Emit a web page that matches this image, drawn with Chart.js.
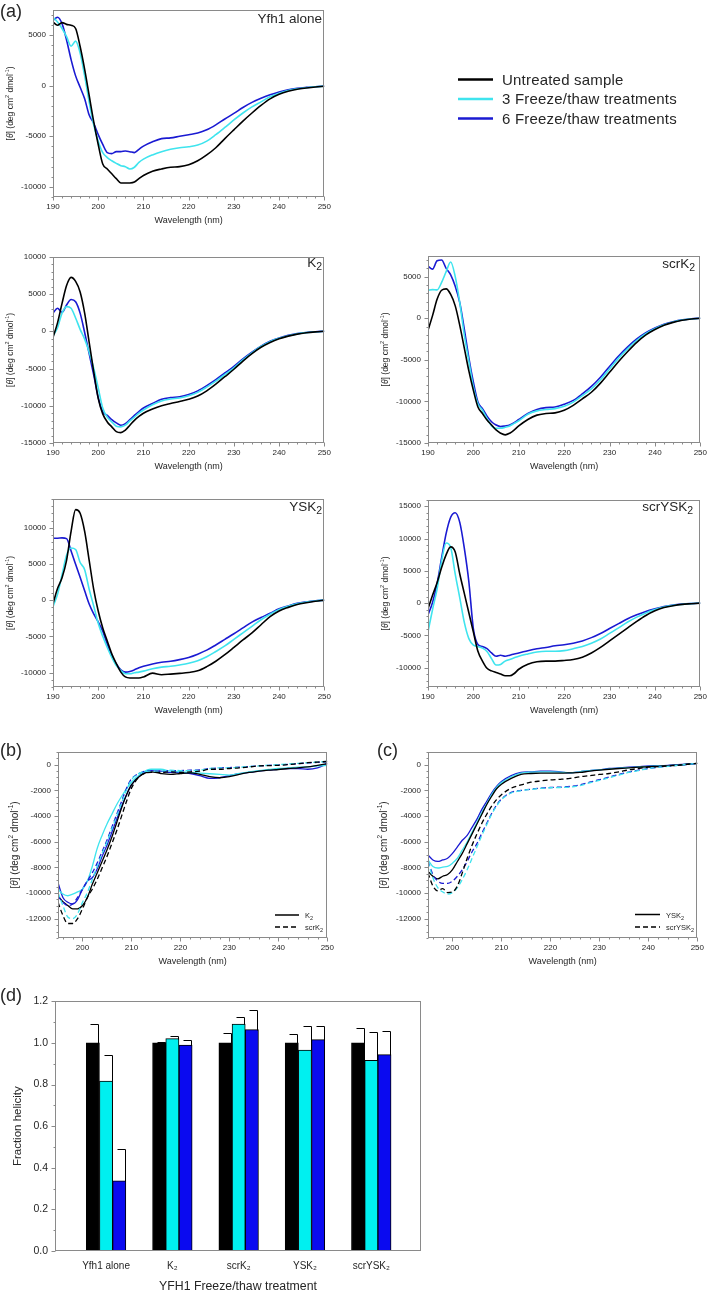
<!DOCTYPE html>
<html><head><meta charset="utf-8">
<script src="https://cdn.jsdelivr.net/npm/chart.js@4.4.1/dist/chart.umd.min.js"></script>
<style>
html,body{margin:0;padding:0;background:#fff;}
body{width:709px;height:1293px;position:relative;overflow:hidden;}
#wrap canvas{position:absolute;}
#overlay{position:absolute;left:0;top:0;}
</style></head><body>
<div id="wrap"></div>
<svg id="overlay" width="709" height="1293" font-family="Liberation Sans, Arial, sans-serif" fill="#262626">
  <text x="0" y="17" font-size="18">(a)</text>
  <text x="0" y="756" font-size="18">(b)</text>
  <text x="377" y="756" font-size="18">(c)</text>
  <text x="0" y="1001" font-size="18">(d)</text>
  <text x="322" y="23" font-size="13.5" text-anchor="end">Yfh1 alone</text>
  <text x="322" y="267" font-size="13.5" text-anchor="end">K<tspan font-size="10.5" dy="3">2</tspan></text>
  <text x="695" y="268" font-size="13.5" text-anchor="end">scrK<tspan font-size="10.5" dy="3">2</tspan></text>
  <text x="322" y="511" font-size="13.5" text-anchor="end">YSK<tspan font-size="10.5" dy="3">2</tspan></text>
  <text x="693" y="511" font-size="13.5" text-anchor="end">scrYSK<tspan font-size="10.5" dy="3">2</tspan></text>
  <line x1="458" y1="79.5" x2="493" y2="79.5" stroke="#000" stroke-width="2.5"/>
  <line x1="458" y1="99" x2="493" y2="99" stroke="#3fe4ee" stroke-width="2.5"/>
  <line x1="458" y1="118.5" x2="493" y2="118.5" stroke="#1a1ad2" stroke-width="2.5"/>
  <g font-size="15" letter-spacing="0.2">
    <text x="502" y="84.5">Untreated sample</text>
    <text x="502" y="104">3 Freeze/thaw treatments</text>
    <text x="502" y="123.5">6 Freeze/thaw treatments</text>
  </g>
  <line x1="275" y1="915" x2="299" y2="915" stroke="#000" stroke-width="1.5"/>
  <line x1="275" y1="927" x2="299" y2="927" stroke="#000" stroke-width="1.5" stroke-dasharray="5,3"/>
  <text x="305" y="918" font-size="7.5">K<tspan font-size="5.5" dy="2">2</tspan></text>
  <text x="305" y="930" font-size="7.5">scrK<tspan font-size="5.5" dy="2">2</tspan></text>
  <line x1="635" y1="914.5" x2="660" y2="914.5" stroke="#000" stroke-width="1.5"/>
  <line x1="635" y1="927" x2="660" y2="927" stroke="#000" stroke-width="1.5" stroke-dasharray="5,3"/>
  <text x="666" y="917.5" font-size="7.5">YSK<tspan font-size="5.5" dy="2">2</tspan></text>
  <text x="666" y="930" font-size="7.5">scrYSK<tspan font-size="5.5" dy="2">2</tspan></text>
</svg>
<script>
// ---------------- DATA ----------------
const WL_A = [190,191,192,193,194,195,196,197,198,199,200,201,202,203,204,205,206,207,208,209,210,212,214,216,218,220,222,224,226,228,230,232,234,236,238,240,242,244,246,248,250];

const YFH1_UNTREATED = [6290,5970,6230,6060,5970,5650,3870,1610,-970,-3550,-5810,-7740,-8230,-8710,-9190,-9610,-9620,-9610,-9520,-9190,-8870,-8450,-8230,-8060,-8000,-7810,-7420,-6840,-6130,-5230,-4360,-3500,-2700,-1950,-1300,-850,-550,-350,-230,-130,-60];
const YFH1_FT3 = [6770,6290,5650,4840,3900,4400,3230,970,-1610,-3870,-5480,-6610,-7100,-7420,-7680,-7900,-8000,-8230,-8060,-7580,-7260,-6840,-6520,-6290,-6130,-6030,-5870,-5480,-4840,-4130,-3390,-2700,-2100,-1600,-1100,-750,-480,-300,-200,-110,-50];
const YFH1_FT6 = [6450,6770,6130,4520,2580,970,-160,-1290,-2900,-3710,-4840,-5810,-6610,-6710,-6520,-6520,-6450,-6520,-6610,-6290,-5970,-5550,-5230,-5160,-5000,-4840,-4680,-4360,-3870,-3290,-2740,-2150,-1650,-1250,-900,-620,-400,-260,-170,-100,-40];

const K2_UNTREATED = [-830,1130,3750,6150,7240,6710,5280,2440,-1480,-5410,-9000,-11090,-12170,-12830,-13480,-13610,-13260,-12610,-11960,-11440,-11000,-10440,-10000,-9700,-9430,-9130,-8700,-8000,-7100,-6100,-5100,-4000,-3000,-2150,-1500,-1000,-650,-380,-200,-80,0];
const K2_FT3 = [-610,480,2440,3310,3100,1790,260,-1050,-2790,-4970,-7600,-10300,-11520,-12170,-12740,-12830,-12610,-12040,-11520,-11000,-10570,-9870,-9350,-9100,-8950,-8650,-8200,-7500,-6700,-5800,-4900,-3850,-2900,-2050,-1400,-950,-600,-350,-180,-70,0];
const K2_FT6 = [2440,3100,2530,3530,4270,3970,2440,-170,-3010,-5840,-8890,-10800,-11300,-11870,-12300,-12610,-12390,-11870,-11300,-10780,-10300,-9700,-9130,-8900,-8800,-8500,-8000,-7300,-6500,-5600,-4700,-3700,-2800,-2000,-1350,-900,-550,-320,-160,-60,0];

const SCRK2_UNTREATED = [-1450,310,2270,3360,3520,2850,1480,-860,-3590,-6330,-8670,-10670,-11450,-12240,-12830,-13430,-13820,-14020,-13820,-13430,-12950,-12170,-11650,-11460,-11380,-11060,-10470,-9700,-8900,-7800,-6500,-5200,-4000,-2900,-2000,-1350,-850,-500,-250,-100,0];
const SCRK2_FT3 = [3360,3440,3400,4300,5600,6760,5000,1870,-2030,-5160,-8280,-10280,-11060,-12050,-12950,-13230,-13230,-13110,-12950,-12640,-12330,-11540,-11140,-10980,-10870,-10590,-10080,-9300,-8500,-7400,-6100,-4800,-3650,-2650,-1850,-1250,-780,-450,-220,-90,0];
const SCRK2_FT6 = [6250,5900,6900,7000,5980,5200,3830,1870,-1300,-4770,-7700,-10080,-10870,-11770,-12440,-12830,-13030,-12950,-12830,-12560,-12170,-11460,-10980,-10750,-10670,-10350,-9880,-9100,-8200,-7100,-5800,-4550,-3450,-2500,-1750,-1180,-730,-420,-200,-80,0];

const YSK2_UNTREATED = [-500,1600,3100,5500,9500,12500,12000,9500,5500,1500,-1500,-3850,-5650,-7420,-8770,-9940,-10610,-10750,-10750,-10750,-10610,-10090,-10300,-10220,-10120,-10000,-9770,-9190,-8440,-7540,-6530,-5500,-4530,-3400,-2280,-1500,-1000,-600,-350,-150,0];
const YSK2_FT3 = [-900,800,3500,6200,7200,7000,5200,4200,1500,-800,-3200,-5000,-6550,-7910,-9040,-9720,-10170,-10170,-10030,-9940,-9810,-9490,-9260,-9130,-8950,-8720,-8360,-7820,-7100,-6330,-5420,-4520,-3620,-2710,-1950,-1300,-850,-500,-280,-120,0];
const YSK2_FT6 = [8560,8560,8600,8500,6800,4950,3150,1300,-540,-1900,-3000,-4300,-6100,-7680,-8810,-9630,-9940,-9850,-9630,-9350,-9130,-8810,-8580,-8450,-8220,-7910,-7460,-6910,-6190,-5420,-4650,-3840,-3030,-2400,-1810,-1200,-800,-450,-250,-100,0];

const SCRYSK2_UNTREATED = [-850,1200,3150,5500,7500,8700,7900,4500,1500,-1500,-4500,-7470,-8990,-10100,-10500,-10760,-11000,-11260,-11260,-10910,-10250,-9490,-9090,-8990,-8990,-8890,-8740,-8380,-7730,-6870,-5860,-4850,-3840,-2830,-1920,-1200,-700,-400,-200,-100,0];
const SCRYSK2_FT3 = [-4440,-1000,2150,6500,9300,8600,4500,800,-3000,-5500,-6500,-6720,-6970,-7500,-8600,-9600,-9500,-8990,-8740,-8480,-8230,-7880,-7580,-7470,-7470,-7370,-7070,-6720,-6210,-5560,-4700,-3840,-2930,-2170,-1520,-1000,-600,-350,-200,-80,0];
const SCRYSK2_FT6 = [-1850,100,3000,7000,10800,13300,14000,12500,8500,3300,-4000,-6400,-6720,-7070,-7730,-8230,-8080,-8230,-8080,-7880,-7730,-7370,-7070,-6870,-6620,-6460,-6210,-5860,-5350,-4700,-3940,-3180,-2420,-1820,-1300,-900,-550,-300,-150,-60,0];

const WL_B = [195,196,197,198,199,200,201,202,203,204,205,206,207,208,209,210,212,214,216,218,220,222,224,226,228,230,232,234,236,238,240,242,244,246,248,250];

const B_K2_UNTREATED = [-10210,-10670,-10970,-11230,-11230,-10970,-10340,-9320,-8430,-7540,-6650,-5640,-4500,-3350,-2340,-1580,-810,-560,-690,-760,-690,-640,-760,-940,-1020,-940,-760,-610,-510,-430,-380,-300,-250,-180,-50,80];
const B_K2_FT3 = [-9700,-10080,-10210,-10080,-9910,-9700,-9070,-7930,-6530,-5510,-4620,-3860,-3100,-2460,-1880,-1370,-690,-360,-360,-510,-560,-610,-660,-710,-760,-810,-690,-560,-460,-380,-300,-250,-200,-180,-100,-50];
const B_K2_FT6 = [-9200,-10340,-10720,-10850,-10520,-9700,-9070,-8810,-8130,-7160,-6270,-5260,-4240,-3230,-2340,-1580,-760,-460,-510,-610,-610,-690,-860,-1070,-1020,-860,-710,-610,-510,-430,-360,-300,-300,-360,-250,80];
const B_SCRK2_UNTREATED = [-10720,-11740,-12370,-12370,-11990,-11230,-10340,-9700,-8940,-8050,-7160,-6150,-5130,-3990,-2850,-1830,-810,-610,-610,-560,-610,-560,-510,-360,-360,-300,-250,-180,-100,-80,-50,0,80,150,200,250];
const B_SCRK2_FT3 = [-9960,-10970,-11860,-11990,-11610,-10720,-9960,-8940,-7930,-6910,-6020,-5000,-3990,-2970,-1960,-1190,-610,-510,-510,-430,-460,-460,-430,-300,-250,-250,-200,-150,-100,-50,0,50,100,150,200,250];
const B_SCRK2_FT6 = [-10210,-10720,-10970,-10850,-10340,-9700,-9070,-8430,-7670,-6780,-5890,-4880,-3860,-2850,-1830,-1120,-610,-460,-510,-460,-460,-430,-410,-300,-250,-230,-200,-150,-100,-50,-30,30,80,130,180,200];

const C_YSK2_UNTREATED = [-8310,-8690,-8890,-8690,-8560,-8180,-7540,-6910,-6150,-5390,-4620,-3860,-3100,-2460,-1880,-1520,-1070,-760,-690,-660,-660,-660,-640,-610,-510,-430,-360,-300,-250,-200,-150,-130,-80,-30,30,100];
const C_YSK2_FT3 = [-7420,-7930,-8050,-7980,-7930,-7670,-7290,-6660,-6020,-5260,-4500,-3730,-3050,-2340,-1780,-1400,-940,-660,-580,-560,-560,-580,-640,-560,-460,-410,-330,-280,-230,-180,-130,-100,-80,-30,30,100];
const C_YSK2_FT6 = [-7040,-7420,-7540,-7420,-7290,-6910,-6400,-5890,-5510,-4880,-4240,-3480,-2850,-2210,-1700,-1320,-860,-610,-560,-510,-510,-560,-640,-560,-460,-410,-300,-250,-200,-150,-100,-80,-50,0,30,100];
const C_SCRYSK2_UNTREATED = [-8430,-9450,-9830,-9650,-9960,-9910,-9450,-8430,-7290,-6270,-5390,-4570,-3860,-3230,-2720,-2340,-1830,-1580,-1370,-1270,-1190,-1140,-1070,-940,-860,-760,-690,-560,-410,-300,-200,-150,-100,-50,30,100];
const C_SCRYSK2_FT3 = [-7540,-8810,-9580,-9910,-10080,-9960,-9580,-8940,-8180,-7290,-6400,-5510,-4670,-3860,-3230,-2720,-2210,-2030,-1930,-1850,-1800,-1780,-1750,-1630,-1420,-1220,-1020,-810,-610,-460,-300,-200,-130,-50,30,100];
const C_SCRYSK2_FT6 = [-7540,-8560,-9070,-9250,-9250,-9070,-8690,-8180,-7540,-6780,-6150,-5330,-4570,-3810,-3150,-2670,-2160,-2010,-1910,-1830,-1780,-1750,-1700,-1580,-1370,-1170,-970,-760,-580,-430,-300,-200,-130,-50,30,100];

const BAR_CATEGORIES = ['Yfh1 alone', 'K\u2082', 'scrK\u2082', 'YSK\u2082', 'scrYSK\u2082'];
const BAR_UNTREATED = [1.0, 1.0, 1.0, 1.0, 1.0];
const BAR_FT3 = [0.817, 1.021, 1.090, 0.965, 0.916];
const BAR_FT6 = [0.337, 0.990, 1.064, 1.016, 0.944];
const ERR_UNTREATED = [0.090, 0.003, 0.046, 0.041, 0.071];
const ERR_FT3 = [0.126, 0.014, 0.035, 0.114, 0.135];
const ERR_FT6 = [0.154, 0.022, 0.094, 0.063, 0.112];

// ---------------- STYLE ----------------
const FONT = '"Liberation Sans", Arial, Helvetica, sans-serif';
const TXT = '#262626';
const FRAME = '#8a8a8a';
const C_BLACK = '#000000', C_CYAN = '#3fe4ee', C_BLUE = '#1a1ad2';

function pts(xs, ys) { return xs.map((x, i) => ({x: x, y: ys[i]})); }
function tickList(min, max, step) {
  const out = [];
  for (let n = Math.ceil(min / step - 1e-9); n * step <= max + 1e-9; n++) out.push({ value: +(n * step).toFixed(6) });
  return out;
}

const THETA = [{t:'['},{t:'\u03b8',it:true},{t:'] (deg cm'},{t:'2',sup:true},{t:' dmol'},{t:'-1',sup:true},{t:')'}];

function drawRich(ctx, parts, x, y, size) {
  let total = 0;
  const m = parts.map(p => {
    const s = p.sup ? size * 0.65 : size;
    const f = (p.it ? 'italic ' : '') + s + 'px ' + FONT;
    ctx.font = f;
    const w = ctx.measureText(p.t).width;
    total += w;
    return {f, w};
  });
  let cx = x - total / 2;
  ctx.textBaseline = 'middle'; ctx.textAlign = 'left';
  parts.forEach((p, i) => {
    ctx.font = m[i].f;
    ctx.fillText(p.t, cx, y - (p.sup ? size * 0.38 : 0));
    cx += m[i].w;
  });
}

const frameTicks = {
  id: 'frameTicks',
  afterDraw(chart, args, o) {
    const ctx = chart.ctx, a = chart.chartArea;
    const xs = chart.scales.x, ys = chart.scales.y;
    const L = Math.round(a.left) + 0.5, Tp = Math.round(a.top) + 0.5;
    const Rr = Math.round(a.right) - 0.5, Bt = Math.round(a.bottom) - 0.5;
    ctx.save();
    ctx.strokeStyle = FRAME; ctx.lineWidth = 1;
    ctx.strokeRect(L, Tp, Rr - L, Bt - Tp);
    ctx.beginPath();
    const tk = (spec, scale, horiz) => {
      if (!spec) return;
      const n0 = Math.ceil(scale.min / spec.minor - 1e-6), n1 = Math.floor(scale.max / spec.minor + 1e-6);
      const ratio = Math.round(spec.major / spec.minor);
      for (let n = n0; n <= n1; n++) {
        const major = ((n % ratio) + ratio) % ratio === 0;
        const len = major ? 4 : 2;
        const p = Math.round(scale.getPixelForValue(n * spec.minor)) + 0.5;
        if (horiz) { ctx.moveTo(p, Bt); ctx.lineTo(p, Bt + len); }
        else { ctx.moveTo(L, p); ctx.lineTo(L - len, p); }
      }
    };
    tk(o.xt, xs, true); tk(o.yt, ys, false);
    ctx.stroke();
    ctx.fillStyle = TXT;
    if (o.xTitle) {
      ctx.font = o.xTitle.size + 'px ' + FONT;
      ctx.textAlign = 'center'; ctx.textBaseline = 'middle';
      ctx.fillText(o.xTitle.text, (a.left + a.right) / 2, a.bottom + o.xTitle.dy);
    }
    if (o.yTitle) {
      ctx.save();
      ctx.translate(a.left + o.yTitle.dx, (a.top + a.bottom) / 2);
      ctx.rotate(-Math.PI / 2);
      drawRich(ctx, o.yTitle.parts, 0, 0, o.yTitle.size);
      ctx.restore();
    }
    ctx.restore();
  }
};

const errBars = {
  id: 'errBars',
  afterDatasetsDraw(chart) {
    const ctx = chart.ctx, ys = chart.scales.y;
    ctx.save(); ctx.strokeStyle = '#000'; ctx.lineWidth = 1;
    chart.data.datasets.forEach((ds, di) => {
      const meta = chart.getDatasetMeta(di);
      meta.data.forEach((el, i) => {
        const v = ds.data[i].y, e = ds.err[i];
        const xr = Math.round(el.x + el.width / 2) - 0.5;
        const y0 = Math.round(el.y) + 0.5, y1 = Math.round(ys.getPixelForValue(v + e)) + 0.5;
        ctx.beginPath();
        ctx.moveTo(xr, y0); ctx.lineTo(xr, y1);
        ctx.moveTo(xr - 8, y1); ctx.lineTo(xr, y1);
        ctx.stroke();
      });
    });
    ctx.restore();
  }
};

function makeCanvas(rect, L, T, R, B) {
  const l = Math.round(rect.l), t = Math.round(rect.t);
  const w = Math.round(rect.r) - l, h = Math.round(rect.b) - t;
  const cv = document.createElement('canvas');
  cv.width = w + L + R; cv.height = h + T + B;
  cv.style.left = (l - L) + 'px'; cv.style.top = (t - T) + 'px';
  document.getElementById('wrap').appendChild(cv);
  return cv;
}

function linePanel(rect, xs, series, ax) {
  const L = 54, T = 8, R = 10, B = 34;
  const cv = makeCanvas(rect, L, T, R, B);
  new Chart(cv, {
    type: 'line',
    data: { datasets: series.map(s => ({
      data: pts(xs, s.y), borderColor: s.c, borderWidth: ax.lw, borderDash: s.dash || [],
      pointRadius: 0, fill: false, cubicInterpolationMode: 'monotone'
    })) },
    options: {
      responsive: false, animation: false, events: [],
      layout: { padding: { left: 0, top: T, right: R, bottom: 0 } },
      plugins: {
        legend: { display: false }, tooltip: { enabled: false },
        frameTicks: {
          xt: { major: 10, minor: 2 }, yt: { major: ax.ystep, minor: ax.yminor },
          xTitle: { text: 'Wavelength (nm)', dy: 23.5, size: 9 },
          yTitle: { parts: THETA, dx: ax.tdx, size: ax.tsize }
        }
      },
      scales: {
        x: { type: 'linear', min: ax.xmin, max: ax.xmax,
             afterFit: s => { s.height = B; },
             afterBuildTicks: s => { s.ticks = tickList(ax.xmin, ax.xmax, 10); },
             grid: { display: false, drawTicks: false }, border: { display: false },
             ticks: { autoSkip: false, maxRotation: 0, padding: 5,
                      color: TXT, font: { size: 8, family: FONT }, callback: v => String(v) } },
        y: { type: 'linear', min: ax.ymin, max: ax.ymax,
             afterFit: s => { s.width = L; },
             afterBuildTicks: s => { s.ticks = tickList(ax.ymin, ax.ymax, ax.ystep); },
             grid: { display: false, drawTicks: false }, border: { display: false },
             ticks: { autoSkip: false, padding: 7,
                      color: TXT, font: { size: 8, family: FONT }, callback: v => String(v) } }
      }
    },
    plugins: [frameTicks]
  });
}

const A_SER = (u, f3, f6) => [
  { y: u, c: C_BLACK }, { y: f3, c: C_CYAN }, { y: f6, c: C_BLUE }
];

linePanel({l:53.3, t:5.5, r:326, b:197}, WL_A, A_SER(YFH1_UNTREATED, YFH1_FT3, YFH1_FT6),
  { xmin:190, xmax:250, ymin:-11000, ymax:7500, ystep:5000, yminor:1000, lw:1.6, tdx:-42, tsize:8.5 });
linePanel({l:53.3, t:252.7, r:326, b:443.3}, WL_A, A_SER(K2_UNTREATED, K2_FT3, K2_FT6),
  { xmin:190, xmax:250, ymin:-15000, ymax:10000, ystep:5000, yminor:1000, lw:1.6, tdx:-42, tsize:8.5 });
linePanel({l:427.7, t:252.3, r:701.7, b:443.3}, WL_A, A_SER(SCRK2_UNTREATED, SCRK2_FT3, SCRK2_FT6),
  { xmin:190, xmax:250, ymin:-15000, ymax:7500, ystep:5000, yminor:1000, lw:1.6, tdx:-42, tsize:8.5 });
linePanel({l:53.3, t:494.7, r:326, b:686.7}, WL_A, A_SER(YSK2_UNTREATED, YSK2_FT3, YSK2_FT6),
  { xmin:190, xmax:250, ymin:-12000, ymax:14000, ystep:5000, yminor:1000, lw:1.6, tdx:-42, tsize:8.5 });
linePanel({l:427.7, t:495.7, r:701.7, b:686.7}, WL_A, A_SER(SCRYSK2_UNTREATED, SCRYSK2_FT3, SCRYSK2_FT6),
  { xmin:190, xmax:250, ymin:-13000, ymax:16000, ystep:5000, yminor:1000, lw:1.6, tdx:-42, tsize:8.5 });

const DASH = [5, 3];
linePanel({l:58.3, t:748.3, r:329.3, b:938.3}, WL_B, [
  { y: B_SCRK2_UNTREATED, c: C_BLACK, dash: DASH }, { y: B_SCRK2_FT3, c: C_CYAN, dash: DASH }, { y: B_SCRK2_FT6, c: C_BLUE, dash: DASH },
  { y: B_K2_UNTREATED, c: C_BLACK }, { y: B_K2_FT3, c: C_CYAN }, { y: B_K2_FT6, c: C_BLUE }
], { xmin:195, xmax:250, ymin:-13500, ymax:1000, ystep:2000, yminor:500, lw:1.3, tdx:-43, tsize:10 });
linePanel({l:427.7, t:747.7, r:699, b:937.7}, WL_B, [
  { y: C_SCRYSK2_UNTREATED, c: C_BLACK, dash: DASH }, { y: C_SCRYSK2_FT3, c: C_CYAN, dash: DASH }, { y: C_SCRYSK2_FT6, c: C_BLUE, dash: DASH },
  { y: C_YSK2_UNTREATED, c: C_BLACK }, { y: C_YSK2_FT3, c: C_CYAN }, { y: C_YSK2_FT6, c: C_BLUE }
], { xmin:195, xmax:250, ymin:-13500, ymax:1000, ystep:2000, yminor:500, lw:1.3, tdx:-44, tsize:10 });

// ---------------- BAR PANEL (d) ----------------
(function () {
  const L = 52, T = 8, R = 10, B = 42;
  const cv = makeCanvas({l:55, t:995.7, r:420.7, b:1251}, L, T, R, B);
  const idx = BAR_CATEGORIES.map((c, i) => i);
  new Chart(cv, {
    type: 'bar',
    data: { datasets: [
      { label: 'Untreated sample', data: pts(idx, BAR_UNTREATED), err: ERR_UNTREATED, backgroundColor: '#000000', borderColor: '#000', borderWidth: 1, barThickness: 13.2 },
      { label: '3 Freeze/thaw treatments', data: pts(idx, BAR_FT3), err: ERR_FT3, backgroundColor: '#00f0f0', borderColor: '#000', borderWidth: 1, barThickness: 13.2 },
      { label: '6 Freeze/thaw treatments', data: pts(idx, BAR_FT6), err: ERR_FT6, backgroundColor: '#0a0af0', borderColor: '#000', borderWidth: 1, barThickness: 13.2 }
    ] },
    options: {
      responsive: false, animation: false, events: [],
      layout: { padding: { left: 0, top: T, right: R, bottom: 0 } },
      plugins: {
        legend: { display: false }, tooltip: { enabled: false },
        frameTicks: {
          xt: null, yt: { major: 0.2, minor: 0.1 },
          xTitle: { text: 'YFH1 Freeze/thaw treatment', dy: 35.7, size: 12.3 },
          yTitle: { parts: [{ t: 'Fraction helicity' }], dx: -37, size: 11.5 }
        }
      },
      scales: {
        x: { type: 'linear', min: -0.77, max: 4.75, offset: false,
             afterFit: s => { s.height = B; },
             afterBuildTicks: s => { s.ticks = idx.map(v => ({ value: v })); },
             grid: { display: false, drawTicks: false }, border: { display: false },
             ticks: { autoSkip: false, maxRotation: 0, padding: 9,
                      color: TXT, font: { size: 10, family: FONT },
                      callback: v => BAR_CATEGORIES[v] } },
        y: { type: 'linear', min: 0, max: 1.2,
             afterFit: s => { s.width = L; },
             afterBuildTicks: s => { s.ticks = tickList(0, 1.2, 0.2); },
             grid: { display: false, drawTicks: false }, border: { display: false },
             ticks: { autoSkip: false, padding: 7,
                      color: TXT, font: { size: 10.5, family: FONT }, callback: v => v.toFixed(1) } }
      }
    },
    plugins: [errBars, frameTicks]
  });
})();
</script>
</body></html>
